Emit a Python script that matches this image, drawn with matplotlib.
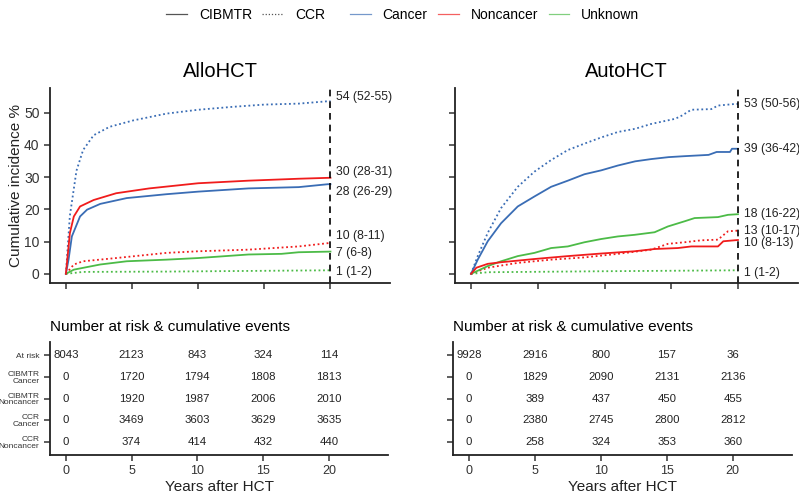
import matplotlib
matplotlib.use("Agg")
from matplotlib import pyplot as plt
from matplotlib.lines import Line2D

plt.rcParams["font.family"] = ["Liberation Sans", "DejaVu Sans"]

CANCER_COLOR = "#3A6DB5"
NONCANCER_COLOR = "#F01C1C"
UNKNOWN_COLOR = "#4CBB47"
DOTTED = (0, (1, 1.5))

# AlloHCT curves (years, cumulative incidence %)
allo_cibmtr_cancer_t = [0, 0.2, 0.45, 1.07, 1.6, 2.6, 4.6, 7.6, 10, 13.8, 17.6, 19.8, 20]
allo_cibmtr_cancer = [0, 4.4, 11.6, 17.8, 19.9, 21.7, 23.5, 24.7, 25.5, 26.5, 26.9, 27.8, 27.8]
allo_cibmtr_noncancer_t = [0, 0.3, 0.6, 1.07, 2.1, 3.8, 6.3, 10, 13.8, 17.6, 20]
allo_cibmtr_noncancer = [0, 12.6, 17.8, 20.9, 22.9, 25.0, 26.5, 28.1, 28.9, 29.5, 29.8]
allo_cibmtr_unknown_t = [0, 0.6, 2.6, 4.6, 7.6, 10, 13.8, 16.3, 17.6, 20]
allo_cibmtr_unknown = [0, 1.3, 2.9, 3.9, 4.4, 4.9, 6.0, 6.2, 6.7, 6.9]
allo_ccr_cancer_t = [0, 0.3, 0.8, 1.3, 2.1, 3.3, 5.1, 7.6, 10, 12.6, 15, 17.6, 20]
allo_ccr_cancer = [0, 18, 32, 38.4, 43, 45.6, 47.6, 49.7, 50.9, 51.8, 52.5, 52.8, 53.6]
allo_ccr_noncancer_t = [0, 0.6, 1.3, 3.8, 7.6, 10, 13.8, 17.6, 20]
allo_ccr_noncancer = [0, 2.9, 3.9, 4.9, 6.5, 7.0, 7.5, 8.5, 9.6]
allo_ccr_unknown_t = [0, 1.3, 7.6, 20]
allo_ccr_unknown = [0, 0.6, 0.7, 1.1]

# AutoHCT curves
auto_cibmtr_cancer_t = [0, 0.5, 1.25, 2.25, 3.5, 4.75, 6, 7.25, 8.5, 9.75, 11, 12.3,
                        13.5, 14.8, 16, 17.8, 18.4, 19.4, 19.55, 20]
auto_cibmtr_cancer = [0, 4.4, 10.1, 15.7, 20.9, 24, 27, 28.9, 30.9, 32.1, 33.6, 34.9,
                      35.6, 36.2, 36.5, 36.9, 37.8, 37.8, 38.8, 38.8]
auto_cibmtr_noncancer_t = [0, 0.4, 1.25, 2.25, 4.75, 7.25, 9.75, 12.25, 13.75, 15.5,
                           16.5, 18.5, 18.9, 20]
auto_cibmtr_noncancer = [0, 1.9, 3.1, 3.6, 4.6, 5.5, 6.3, 7.0, 7.7, 8.0, 8.5, 8.5, 10.1, 10.5]
auto_cibmtr_unknown_t = [0, 1.25, 2.25, 3.5, 4.75, 6, 7.25, 8.5, 9.75, 11, 12.25, 13.75,
                         14.75, 16, 16.75, 18.5, 19.25, 20]
auto_cibmtr_unknown = [0, 2.4, 3.9, 5.5, 6.5, 8.0, 8.5, 9.8, 10.8, 11.6, 12.1, 12.9,
                       14.7, 16.3, 17.3, 17.6, 18.3, 18.5]
auto_ccr_cancer_t = [0, 0.5, 1.25, 2.25, 3.5, 4.75, 6, 7.25, 8.5, 9.75, 11, 12.3, 13.5,
                     15.3, 15.8, 16.5, 18.0, 18.5, 19.8, 20]
auto_ccr_cancer = [0, 5.5, 12.7, 20.4, 27, 31.7, 35.3, 38.4, 40.4, 42.3, 44, 45, 46.5,
                   48.1, 49.1, 50.9, 51.1, 52.2, 52.7, 52.7]
auto_ccr_noncancer_t = [0, 1.25, 3.5, 6, 8.5, 11, 13.5, 14.75, 16, 17.25, 18.5, 19.25, 20]
auto_ccr_noncancer = [0, 1.9, 3.4, 4.4, 5.1, 6.2, 7.5, 9.3, 9.8, 10.4, 10.6, 13.2, 13.4]
auto_ccr_unknown_t = [0, 1.25, 9.75, 20]
auto_ccr_unknown = [0, 0.5, 0.8, 1.1]

# end-point labels and the heights where they are written
allo_end_labels = ["54 (52-55)", "30 (28-31)", "28 (26-29)", "10 (8-11)", "7 (6-8)", "1 (1-2)"]
allo_end_label_y = [54.8, 31.6, 25.4, 11.8, 6.5, 0.6]
auto_end_labels = ["53 (50-56)", "39 (36-42)", "18 (16-22)", "13 (10-17)", "10 (8-13)", "1 (1-2)"]
auto_end_label_y = [52.6, 38.7, 18.6, 13.3, 9.6, 0.3]

# risk table
table_years = [0, 5, 10, 15, 20]
table_rows = ["At risk", "CIBMTR\nCancer", "CIBMTR\nNoncancer", "CCR\nCancer", "CCR\nNoncancer"]
allo_table = [
    [8043, 2123, 843, 324, 114],
    [0, 1720, 1794, 1808, 1813],
    [0, 1920, 1987, 2006, 2010],
    [0, 3469, 3603, 3629, 3635],
    [0, 374, 414, 432, 440],
]
auto_table = [
    [9928, 2916, 800, 157, 36],
    [0, 1829, 2090, 2131, 2136],
    [0, 389, 437, 450, 455],
    [0, 2380, 2745, 2800, 2812],
    [0, 258, 324, 353, 360],
]


def style_axis(ax):
    for side in ["top", "right"]:
        ax.spines[side].set_visible(False)
    for side in ["left", "bottom"]:
        ax.spines[side].set_linewidth(1.3)
        ax.spines[side].set_color("#222222")
    ax.tick_params(direction="out", length=4, width=1.1, color="#333333",
                   labelcolor="#333333")
    ax.set_xlim(-1.2, 24.5)
    ax.set_xticks(table_years)


def curves(ax, data, labels, label_y, title, show_ylabels):
    for t, v, color, ls in data:
        ax.plot(t, v, color=color, linestyle=ls, linewidth=1.3)
    ax.axvline(20, color="black", linestyle=(0, (4, 3)), linewidth=1.2)
    for text, y in zip(labels, label_y):
        ax.text(20.45, y, text, fontsize=8.8, va="center", ha="left", color="#222222")
    style_axis(ax)
    ax.set_ylim(-2.8, 57.6)
    ax.set_yticks([0, 10, 20, 30, 40, 50])
    ax.tick_params(labelbottom=False, labelsize=10)
    if show_ylabels:
        ax.set_ylabel("Cumulative incidence %", fontsize=11, color="#222222", labelpad=1)
    else:
        ax.tick_params(labelleft=False)
    ax.set_title(title, fontsize=14.5, pad=8)


def risk_table(ax, values, show_rows):
    for r, row in enumerate(values):
        for year, n in zip(table_years, row):
            ax.text(year, r, str(n), ha="center", va="center", fontsize=8.2, color="#222222")
    style_axis(ax)
    ax.set_ylim(len(values) - 0.4, -0.6)
    ax.set_yticks(range(len(values)))
    ax.tick_params(axis="x", labelsize=9)
    if show_rows:
        ax.set_yticklabels(table_rows, fontsize=6, linespacing=0.95)
    else:
        ax.tick_params(labelleft=False)
    ax.set_xlabel("Years after HCT", fontsize=11, color="#222222", labelpad=2)
    ax.set_title("Number at risk & cumulative events", loc="left", fontsize=11, pad=8)


fig = plt.figure(figsize=(7.99, 4.98), dpi=100)
ax_allo = fig.add_axes([0.0626, 0.432, 0.4255, 0.391])
ax_auto = fig.add_axes([0.5695, 0.432, 0.4293, 0.391])
tab_allo = fig.add_axes([0.0626, 0.0863, 0.4230, 0.2269])
tab_auto = fig.add_axes([0.567, 0.0863, 0.4243, 0.2269])

curves(ax_allo, [
    (allo_ccr_cancer_t, allo_ccr_cancer, CANCER_COLOR, DOTTED),
    (allo_ccr_noncancer_t, allo_ccr_noncancer, NONCANCER_COLOR, DOTTED),
    (allo_ccr_unknown_t, allo_ccr_unknown, UNKNOWN_COLOR, DOTTED),
    (allo_cibmtr_unknown_t, allo_cibmtr_unknown, UNKNOWN_COLOR, "-"),
    (allo_cibmtr_cancer_t, allo_cibmtr_cancer, CANCER_COLOR, "-"),
    (allo_cibmtr_noncancer_t, allo_cibmtr_noncancer, NONCANCER_COLOR, "-"),
], allo_end_labels, allo_end_label_y, "AlloHCT", True)

curves(ax_auto, [
    (auto_ccr_cancer_t, auto_ccr_cancer, CANCER_COLOR, DOTTED),
    (auto_ccr_noncancer_t, auto_ccr_noncancer, NONCANCER_COLOR, DOTTED),
    (auto_ccr_unknown_t, auto_ccr_unknown, UNKNOWN_COLOR, DOTTED),
    (auto_cibmtr_unknown_t, auto_cibmtr_unknown, UNKNOWN_COLOR, "-"),
    (auto_cibmtr_cancer_t, auto_cibmtr_cancer, CANCER_COLOR, "-"),
    (auto_cibmtr_noncancer_t, auto_cibmtr_noncancer, NONCANCER_COLOR, "-"),
], auto_end_labels, auto_end_label_y, "AutoHCT", False)

risk_table(tab_allo, allo_table, True)
risk_table(tab_auto, auto_table, False)

# legends: line type group and colour group
source_handles = [
    Line2D([], [], color="#555555", linewidth=0.9, linestyle="-"),
    Line2D([], [], color="#555555", linewidth=0.9, linestyle=DOTTED),
]
group_handles = [
    Line2D([], [], color=CANCER_COLOR, linewidth=0.9, alpha=0.7),
    Line2D([], [], color=NONCANCER_COLOR, linewidth=0.9, alpha=0.7),
    Line2D([], [], color=UNKNOWN_COLOR, linewidth=0.9, alpha=0.7),
]
legend_kw = dict(frameon=False, ncol=3, fontsize=10, handlelength=1.5,
                 handletextpad=0.85, columnspacing=0.75, borderpad=0, borderaxespad=0)
fig.legend(source_handles, ["CIBMTR", "CCR"], loc="center right",
           bbox_to_anchor=(325 / 799, 0.97), **legend_kw)
fig.legend(group_handles, ["Cancer", "Noncancer", "Unknown"], loc="center left",
           bbox_to_anchor=(350 / 799, 0.97), **legend_kw)

fig.savefig("out.png", dpi=100)
